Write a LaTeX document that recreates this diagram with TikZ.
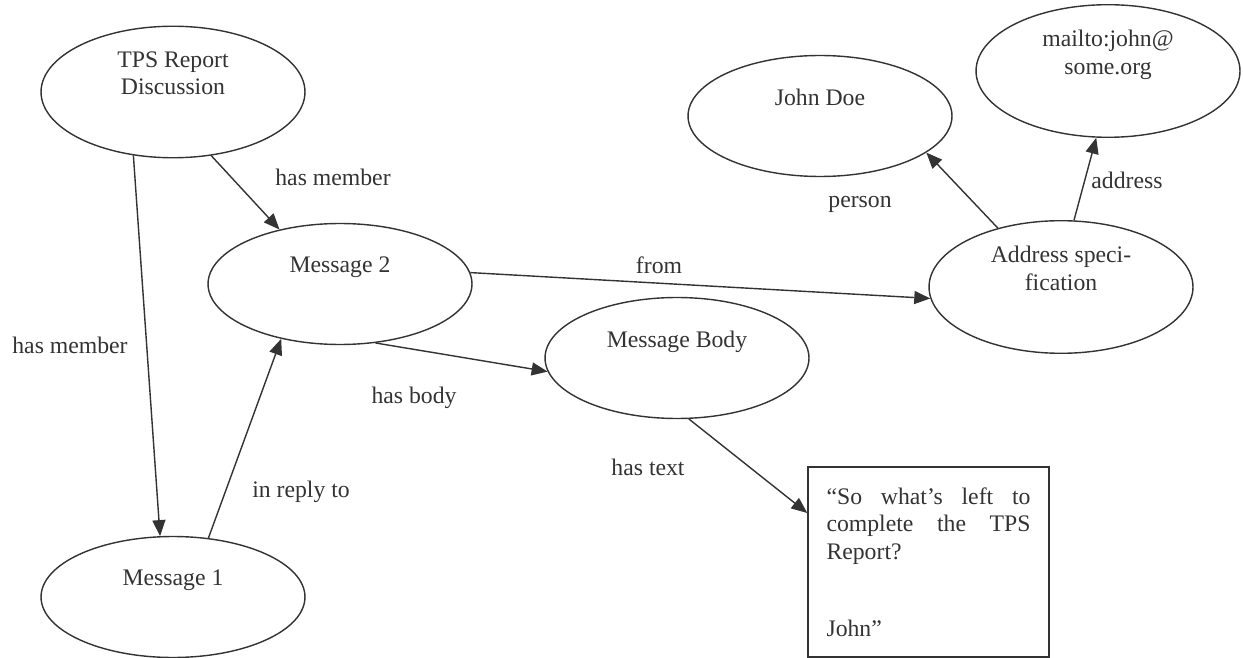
\documentclass[tikz,border=0pt]{standalone}
\usepackage{fontspec}
\setmainfont{Liberation Serif}
\usepackage{xcolor}
\usetikzlibrary{shapes.geometric,arrows.meta}
\definecolor{ink}{HTML}{333333}

\begin{document}
\begin{tikzpicture}[x=0.02cm,y=-0.02cm,font=\fontsize{13.5}{15.7}\selectfont,text=ink,
  oval/.style={ellipse,draw=ink,line width=0.8pt,minimum width=5.28cm,minimum height=2.42cm,align=center,text depth=0.76cm},
  link/.style={draw=ink,line width=0.8pt,-{Triangle[length=0.32cm,width=0.26cm]}},
  tag/.style={inner sep=0pt,text depth=0pt}]
  \useasboundingbox (0,0) rectangle (1243,658);
  \node[oval] (tps) at (173,92) {TPS Report\\Discussion};
  \node[oval] (msg2) at (340,284) {Message 2};
  \node[oval] (msg1) at (173,597) {Message 1};
  \node[oval] (body) at (677,358) {Message Body};
  \node[oval] (addr) at (1061,287) {Address speci-\\fication};
  \node[oval] (john) at (820,116) {John Doe};
  \node[oval] (mail) at (1108,71) {mailto:john@\\some.org};
  \node[draw=ink,line width=0.8pt,minimum width=4.82cm,minimum height=3.8cm,text width=4.08cm,align=left] (quote) at (928.5,562)
    {“So\hfill what’s\hfill left\hfill to\\complete\hfill the\hfill TPS\\Report?\\[0.99cm]John”};
  \node[tag] (lmember1) at (70,345) {has member};
  \node[tag] (lmember2) at (333,177) {has member};
  \node[tag] (lreply) at (301,489) {in reply to};
  \node[tag] (lbody) at (414,395) {has body};
  \node[tag] (lfrom) at (659,265) {from};
  \node[tag] (ltext) at (648,467) {has text};
  \node[tag] (lperson) at (860,202) {person};
  \node[tag] (laddress) at (1127,180) {address};
  \draw[link] (tps.238) -- (msg1.102);
  \draw[link] (tps.301) -- (msg2.138);
  \draw[link] (msg1.59) -- (msg2.223);
  \draw[link] (msg2.301) -- (body.186);
  \draw[link] (msg2.5) -- (addr.185);
  \draw[link] (body.281) -- (quote.158);
  \draw[link] (addr.137) -- (john.341);
  \draw[link] (addr.79) -- (mail.260);
\end{tikzpicture}
\end{document}
